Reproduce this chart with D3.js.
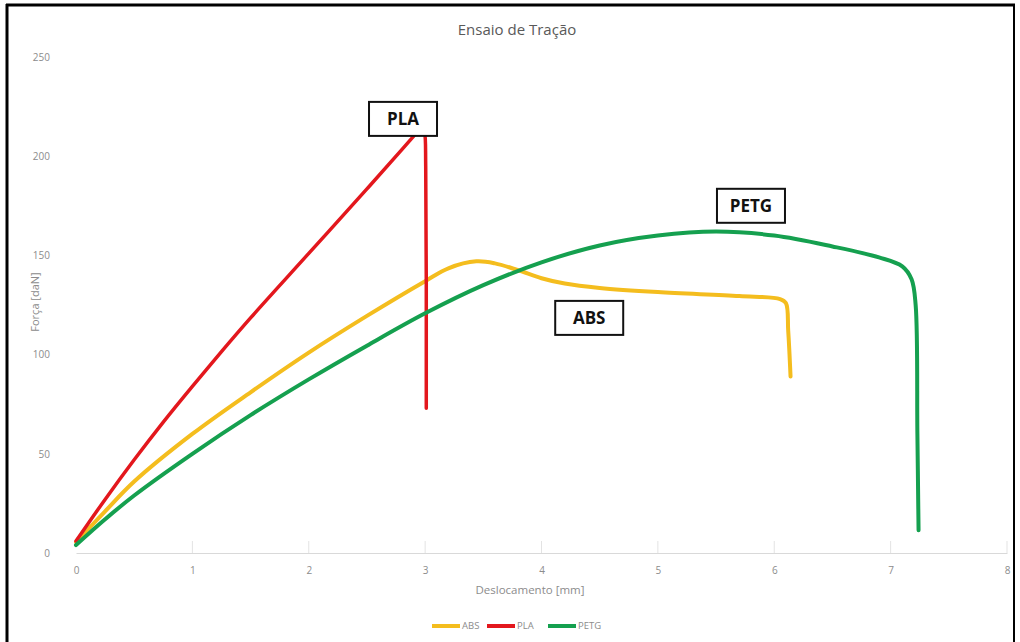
<!DOCTYPE html>
<html>
<head>
<meta charset="utf-8">
<script src="https://cdn.jsdelivr.net/npm/d3@7"></script>
<style>
  body { margin: 0; background: #fff; }
  svg { display: block; }
</style>
</head>
<body>
<div id="chart"></div>
<script>
// tick labels
const xTicks = [0, 1, 2, 3, 4, 5, 6, 7, 8];
const yTicks = [0, 50, 100, 150, 200, 250];

const seriesNames = ['ABS', 'PLA', 'PETG'];
const seriesColors = ['#f4bd1e', '#e3171d', '#15a04f'];

// [deslocamento mm, força daN]
const absData = [
  [0, 5.5], [0.25, 21], [0.5, 36], [1.0, 60], [1.5, 81], [2.0, 101],
  [2.5, 119.5], [3.0, 137], [3.2, 143.5], [3.44, 147], [3.6, 146],
  [3.8, 142.5], [4.0, 138.5], [4.2, 135.8], [4.5, 133.6], [5.0, 131.5],
  [5.7, 129.5], [6.05, 128], [6.1, 126], [6.12, 112], [6.14, 89]
];
const plaData = [
  [0, 6], [0.25, 27], [0.5, 47], [0.75, 66], [1.0, 84], [1.25, 101.5],
  [1.5, 118.5], [2.0, 151], [2.5, 183.5], [2.8, 203.3], [2.9, 210],
  [2.95, 213.3], [2.975, 214.5], [2.995, 212], [3.005, 195], [3.01, 73]
];
const petgData = [
  [0, 4], [0.25, 17], [0.5, 29], [1.0, 50], [1.5, 69.5], [2.0, 87.5],
  [2.5, 104.5], [3.0, 120.8], [3.5, 135], [4.0, 146.5], [4.5, 155],
  [5.0, 160], [5.5, 162], [6.0, 160], [6.5, 154.5], [6.9, 149],
  [7.1, 144.5], [7.18, 138], [7.215, 125], [7.23, 60], [7.24, 11.5]
];
const allSeries = [absData, plaData, petgData];

// annotation boxes: label and centre in data units
const boxLabels = ['PLA', 'PETG', 'ABS'];
const boxX = [2.81, 5.8, 4.41];
const boxY = [218.8, 175, 118.5];

const width = 1020;
const height = 642;

const x = d3.scaleLinear().domain([0, 8]).range([76, 1007]);
const y = d3.scaleLinear().domain([0, 250]).range([553, 57]);

const svg = d3.select('#chart')
  .append('svg')
  .attr('width', width)
  .attr('height', height);

svg.append('rect')
  .attr('width', width)
  .attr('height', height)
  .attr('fill', '#fff');

// outer frame of the picture
svg.append('line').attr('x1', 7).attr('x2', 7).attr('y1', 4).attr('y2', height)
  .attr('stroke', '#000').attr('stroke-width', 3);
svg.append('line').attr('x1', 6).attr('x2', 1015).attr('y1', 5).attr('y2', 5)
  .attr('stroke', '#000').attr('stroke-width', 3);
svg.append('line').attr('x1', 1014).attr('x2', 1014).attr('y1', 4).attr('y2', height)
  .attr('stroke', '#000').attr('stroke-width', 2);

svg.append('text')
  .attr('x', 517)
  .attr('y', 35)
  .attr('text-anchor', 'middle')
  .attr('font-family', 'Open Sans, sans-serif')
  .attr('font-size', 15)
  .attr('fill', '#595959')
  .text('Ensaio de Tração');

// x axis
const xAxis = svg.append('g')
  .attr('transform', `translate(0,${y(0)})`)
  .call(d3.axisBottom(x).tickValues(xTicks).tickSize(0).tickPadding(14));
xAxis.select('.domain').attr('stroke', '#d9d9d9');
xAxis.selectAll('text')
  .attr('font-family', 'Open Sans, sans-serif')
  .attr('font-size', 10)
  .attr('fill', '#8c8c8c');

// short tick marks above the baseline
svg.append('g').selectAll('line')
  .data(xTicks.slice(1))
  .enter()
  .append('line')
  .attr('x1', d => x(d)).attr('x2', d => x(d))
  .attr('y1', y(0)).attr('y2', y(0) - 12)
  .attr('stroke', '#e3e3e3');

// y axis (labels only)
const yAxis = svg.append('g')
  .attr('transform', `translate(${x(0)},0)`)
  .call(d3.axisLeft(y).tickValues(yTicks).tickSize(0).tickPadding(26));
yAxis.select('.domain').remove();
yAxis.selectAll('text')
  .attr('font-family', 'Open Sans, sans-serif')
  .attr('font-size', 10)
  .attr('fill', '#8c8c8c');

svg.append('text')
  .attr('transform', 'translate(39,302) rotate(-90)')
  .attr('text-anchor', 'middle')
  .attr('font-family', 'Open Sans, sans-serif')
  .attr('font-size', 11)
  .attr('fill', '#8c8c8c')
  .text('Força [daN]');

svg.append('text')
  .attr('x', 530)
  .attr('y', 594)
  .attr('text-anchor', 'middle')
  .attr('font-family', 'Open Sans, sans-serif')
  .attr('font-size', 11.5)
  .attr('fill', '#8c8c8c')
  .text('Deslocamento [mm]');

// curves
const line = d3.line()
  .x(d => x(d[0]))
  .y(d => y(d[1]))
  .curve(d3.curveCatmullRom.alpha(0.5));

svg.append('g').selectAll('path')
  .data(allSeries)
  .enter()
  .append('path')
  .attr('d', d => line(d))
  .attr('fill', 'none')
  .attr('stroke', (d, i) => seriesColors[i])
  .attr('stroke-width', (d, i) => i === 1 ? 3.5 : 4)
  .attr('stroke-linecap', 'round')
  .attr('stroke-linejoin', 'round');

// boxes
const boxes = svg.append('g').selectAll('g')
  .data(boxLabels)
  .enter()
  .append('g')
  .attr('transform', (d, i) => `translate(${x(boxX[i])},${y(boxY[i])})`);

boxes.append('rect')
  .attr('x', -34).attr('y', -17)
  .attr('width', 68).attr('height', 34)
  .attr('fill', '#fff')
  .attr('stroke', '#111')
  .attr('stroke-width', 2);

boxes.append('text')
  .attr('text-anchor', 'middle')
  .attr('dy', '0.36em')
  .attr('font-family', 'Open Sans, sans-serif')
  .attr('font-weight', 'bold')
  .attr('font-size', 17)
  .attr('fill', '#111')
  .text(d => d);

// legend
const legendX = [432, 487, 548];
const legend = svg.append('g').selectAll('g')
  .data(seriesNames)
  .enter()
  .append('g')
  .attr('transform', (d, i) => `translate(${legendX[i]},626)`);

legend.append('line')
  .attr('x1', 0).attr('x2', 28)
  .attr('stroke', (d, i) => seriesColors[i])
  .attr('stroke-width', 4);

legend.append('text')
  .attr('x', 30)
  .attr('dy', '0.35em')
  .attr('font-family', 'Open Sans, sans-serif')
  .attr('font-size', 9.5)
  .attr('fill', '#8c8c8c')
  .text(d => d);
</script>
</body>
</html>
